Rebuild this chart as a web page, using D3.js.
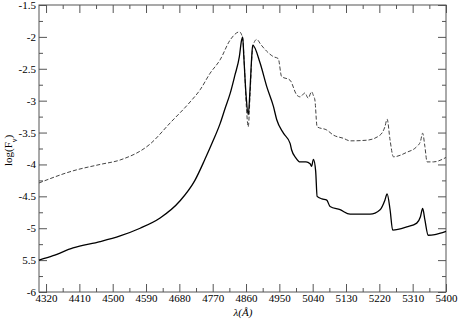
<!DOCTYPE html>
<html>
<head>
<meta charset="utf-8">
<script src="https://cdn.jsdelivr.net/npm/d3@7"></script>
<style>
  body { margin: 0; background: #fff; }
</style>
</head>
<body>
<div id="chart"></div>
<script>
// wavelengths (Angstrom) and log flux
const solidWave = [4301, 4339, 4393, 4466, 4520, 4574, 4628, 4682, 4722, 4749, 4771, 4790, 4803, 4817, 4830, 4842, 4848, 4851,
  4854, 4860, 4866, 4871, 4875, 4878, 4898, 4916, 4934, 4943, 4961, 4979, 4983, 4995, 5006, 5022, 5033, 5037, 5042, 5048,
  5052, 5065, 5078, 5087, 5114, 5141, 5195, 5222, 5235, 5241, 5249, 5256, 5294, 5321, 5331, 5337, 5343, 5352, 5370, 5400];
const solidFlux = [-5.50, -5.43, -5.31, -5.21, -5.12, -5.00, -4.84, -4.57, -4.25, -3.92, -3.63, -3.36, -3.13, -2.89, -2.60, -2.31, -2.05, -2.00,
  -2.30, -2.90, -3.22, -2.80, -2.35, -2.13, -2.41, -2.78, -3.09, -3.30, -3.51, -3.67, -3.77, -3.90, -3.96, -3.96, -3.99, -4.03, -3.92, -4.10,
  -4.50, -4.54, -4.56, -4.66, -4.71, -4.78, -4.78, -4.71, -4.56, -4.46, -4.71, -5.03, -4.98, -4.92, -4.82, -4.69, -4.87, -5.11, -5.10, -5.05];

const dashedWave = [4301, 4393, 4466, 4520, 4601, 4655, 4709, 4736, 4763, 4790, 4817, 4834, 4842, 4851, 4856, 4861, 4866, 4871,
  4876, 4881, 4889, 4900, 4915, 4934, 4947, 4956, 4979, 4997, 5006, 5019, 5028, 5037, 5042, 5046, 5052, 5078, 5096, 5123,
  5141, 5186, 5222, 5235, 5241, 5249, 5258, 5294, 5321, 5331, 5337, 5343, 5349, 5366, 5400];
const dashedFlux = [-4.29, -4.10, -4.00, -3.93, -3.68, -3.35, -3.02, -2.83, -2.57, -2.36, -2.05, -1.94, -1.92, -2.02, -2.50, -3.10, -3.41, -2.90,
  -2.30, -2.10, -2.04, -2.12, -2.22, -2.31, -2.34, -2.62, -2.68, -2.91, -2.94, -2.88, -2.96, -2.86, -2.92, -2.99, -3.41, -3.46, -3.54, -3.59,
  -3.63, -3.62, -3.54, -3.41, -3.29, -3.62, -3.88, -3.81, -3.72, -3.64, -3.51, -3.72, -3.96, -3.96, -3.89];

const xTicks = [4320, 4410, 4500, 4590, 4680, 4770, 4860, 4950, 5040, 5130, 5220, 5310, 5400];
const yTicks = [-6, -5.5, -5, -4.5, -4, -3.5, -3, -2.5, -2, -1.5];
const yTickLabels = ["-6", "5.5", "-5", "-4.5", "-4", "-3.5", "-3", "-2.5", "-2", "-1.5"];

const width = 458, height = 320;
const margin = { left: 39, right: 12, top: 5, bottom: 28 };
const serif = "'Liberation Serif', 'DejaVu Serif', serif";

const svg = d3.select("#chart").append("svg")
  .attr("width", width)
  .attr("height", height)
  .attr("font-family", serif);

const x = d3.scaleLinear().domain([4301, 5400]).range([margin.left, width - margin.right]);
const y = d3.scaleLinear().domain([-6, -1.5]).range([height - margin.bottom, margin.top]);

const axisColor = "#555";

// minor ticks halfway between majors
const xMinor = xTicks.slice(0, -1).map((t, i) => (t + xTicks[i + 1]) / 2);
const yMinor = yTicks.slice(0, -1).map((t, i) => (t + yTicks[i + 1]) / 2);

function styleAxis(g) {
  g.attr("font-family", serif).attr("font-size", 11);
  g.select(".domain").remove();
  g.selectAll("line").attr("stroke", axisColor);
  g.selectAll("text").attr("fill", "#000");
}

// bottom axis (ticks inward)
svg.append("g")
  .attr("transform", `translate(0,${y(-6)})`)
  .call(d3.axisBottom(x).tickValues(xTicks).tickSize(-8).tickPadding(2).tickFormat(d3.format("d")))
  .call(styleAxis);
svg.append("g")
  .attr("transform", `translate(0,${y(-6)})`)
  .call(d3.axisBottom(x).tickValues(xMinor).tickSize(-4).tickFormat(""))
  .call(styleAxis);

// top axis mirror
svg.append("g")
  .attr("transform", `translate(0,${y(-1.5)})`)
  .call(d3.axisTop(x).tickValues(xTicks).tickSize(-8).tickFormat(""))
  .call(styleAxis);
svg.append("g")
  .attr("transform", `translate(0,${y(-1.5)})`)
  .call(d3.axisTop(x).tickValues(xMinor).tickSize(-4).tickFormat(""))
  .call(styleAxis);

// left axis
svg.append("g")
  .attr("transform", `translate(${x(4301)},0)`)
  .call(d3.axisLeft(y).tickValues(yTicks).tickSize(-8).tickPadding(3).tickFormat((d, i) => yTickLabels[i]))
  .call(styleAxis);
svg.append("g")
  .attr("transform", `translate(${x(4301)},0)`)
  .call(d3.axisLeft(y).tickValues(yMinor).tickSize(-4).tickFormat(""))
  .call(styleAxis);

// right axis mirror
svg.append("g")
  .attr("transform", `translate(${x(5400)},0)`)
  .call(d3.axisRight(y).tickValues(yTicks).tickSize(-8).tickFormat(""))
  .call(styleAxis);
svg.append("g")
  .attr("transform", `translate(${x(5400)},0)`)
  .call(d3.axisRight(y).tickValues(yMinor).tickSize(-4).tickFormat(""))
  .call(styleAxis);

// frame
svg.append("rect")
  .attr("x", x(4301)).attr("y", y(-1.5))
  .attr("width", x(5400) - x(4301)).attr("height", y(-6) - y(-1.5))
  .attr("fill", "none").attr("stroke", axisColor).attr("stroke-width", 1);

const line = d3.line()
  .x(d => x(d[0]))
  .y(d => y(d[1]))
  .curve(d3.curveMonotoneX);

svg.append("path")
  .datum(dashedWave.map((w, i) => [w, dashedFlux[i]]))
  .attr("d", line)
  .attr("fill", "none")
  .attr("stroke", "#444")
  .attr("stroke-width", 1)
  .attr("stroke-dasharray", "4,2");

svg.append("path")
  .datum(solidWave.map((w, i) => [w, solidFlux[i]]))
  .attr("d", line)
  .attr("fill", "none")
  .attr("stroke", "#000")
  .attr("stroke-width", 1.3);

// axis titles
const yLab = svg.append("text")
  .attr("transform", `translate(12,${(y(-1.5) + y(-6)) / 2 + 2}) rotate(-90)`)
  .attr("text-anchor", "middle")
  .attr("font-size", 11);
yLab.append("tspan").text("log(F");
yLab.append("tspan").attr("baseline-shift", "sub").attr("font-size", 8).text("ν");
yLab.append("tspan").text(")");

svg.append("text")
  .attr("x", 243)
  .attr("y", 316)
  .attr("text-anchor", "middle")
  .attr("font-size", 11)
  .attr("font-style", "italic")
  .text("λ(Å)");
</script>
</body>
</html>
